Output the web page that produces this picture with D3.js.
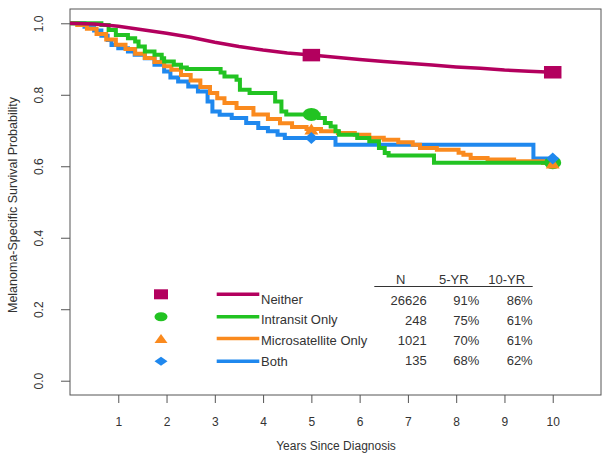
<!DOCTYPE html>
<html><head><meta charset="utf-8">
<script src="https://cdn.jsdelivr.net/npm/d3@7"></script>
<style>body{margin:0;background:#fff}svg{display:block}text{font-family:"Liberation Sans",Arial,sans-serif;fill:#333}</style>
</head><body>
<script>
// ---- data ----
const groups = ["Neither", "Intransit Only", "Microsatellite Only", "Both"];
const groupN = ["26626", "248", "1021", "135"];
const fiveYr = ["91%", "75%", "70%", "68%"];
const tenYr = ["86%", "61%", "61%", "62%"];
const colors = ["#b3005e", "#22c322", "#fa8a1e", "#1f88ee"];
const xTicks = [1,2,3,4,5,6,7,8,9,10];
const yTicks = [0.0,0.2,0.4,0.6,0.8,1.0];
const markerTimes = [5, 10];

const neitherT = [0,0.5,1,1.5,2,2.5,3,3.5,4,4.5,5,5.5,6,6.5,7,7.5,8,8.5,9,9.5,10];
const neitherS = [1.0,0.998,0.992,0.982,0.972,0.961,0.947,0.935,0.925,0.917,0.911,0.905,0.899,0.893,0.888,0.883,0.878,0.874,0.869,0.866,0.863];

const intransitT = [0,0.65,0.8,0.95,1.2,1.35,1.42,1.55,1.75,1.9,1.95,2.15,2.3,2.42,3.12,3.2,3.45,3.52,3.72,4.25,4.38,4.48,5.15,5.28,5.4,5.5,5.57,5.95,6.2,6.4,6.52,6.6,7.54,10];
const intransitS = [1.0,0.995,0.981,0.967,0.958,0.949,0.935,0.921,0.912,0.902,0.893,0.884,0.876,0.872,0.862,0.851,0.842,0.814,0.805,0.781,0.753,0.745,0.735,0.721,0.711,0.698,0.688,0.679,0.670,0.651,0.637,0.630,0.610,0.610];

const microT = [0,0.15,0.35,0.55,0.75,0.95,1.15,1.35,1.55,1.75,1.95,2.1,2.3,2.5,2.7,2.9,3.05,3.2,3.45,3.8,4.1,4.35,4.6,4.9,5.2,5.55,5.9,6.2,6.5,6.8,7.1,7.25,7.6,8.05,8.15,8.3,8.65,9.2,9.8,10];
const microS = [1.0,0.995,0.985,0.97,0.955,0.94,0.928,0.915,0.903,0.892,0.88,0.87,0.855,0.84,0.822,0.805,0.79,0.777,0.763,0.745,0.732,0.72,0.71,0.704,0.698,0.693,0.688,0.68,0.674,0.667,0.66,0.651,0.646,0.638,0.632,0.623,0.619,0.614,0.609,0.609];

const bothT = [0,0.3,0.5,0.65,0.78,0.86,1.0,1.2,1.34,1.55,1.75,1.95,2.08,2.24,2.45,2.65,2.85,2.95,3.1,3.35,3.65,3.9,4.1,4.3,4.45,5.5,9.6,10];
const bothS = [1.0,0.99,0.98,0.965,0.953,0.939,0.93,0.921,0.912,0.902,0.884,0.865,0.848,0.837,0.823,0.809,0.781,0.753,0.744,0.735,0.721,0.707,0.698,0.688,0.679,0.660,0.622,0.622];

// ---- layout ----
const W = 610, H = 459;
const L = 70, R = 601, T = 9, B = 395;
const svg = d3.select("body").append("svg").attr("width", W).attr("height", H);
const x = d3.scaleLinear().domain([0, 11]).range([L, R]);
const y = d3.scaleLinear().domain([-0.04, 1.04]).range([B, T]);

// box
svg.append("rect").attr("x", L).attr("y", T).attr("width", R - L).attr("height", B - T)
  .attr("fill", "none").attr("stroke", "#555").attr("stroke-width", 1);

// x axis
const xAx = svg.append("g").attr("transform", `translate(0,${B})`)
  .call(d3.axisBottom(x).tickValues(xTicks).tickSize(8).tickFormat(d3.format("d")));
xAx.select(".domain").remove();
xAx.selectAll("line").attr("stroke", "#555");
xAx.selectAll("text").attr("dy", null).attr("y", 30.5).style("font-size", "12px").attr("fill", "#333");

// y axis
const yAx = svg.append("g").attr("transform", `translate(${L},0)`)
  .call(d3.axisLeft(y).tickValues(yTicks).tickSize(9).tickFormat(d3.format(".1f")));
yAx.select(".domain").remove();
yAx.selectAll("line").attr("stroke", "#555");
yAx.selectAll("text").attr("x", null).attr("dy", null)
  .attr("transform", "translate(-26.7,0) rotate(-90)")
  .attr("text-anchor", "middle").style("font-size", "12px").attr("fill", "#333");

// axis titles
svg.append("text").attr("x", (L + R) / 2 + 0.5).attr("y", 450).attr("text-anchor", "middle")
  .style("font-size", "12px").text("Years Since Diagnosis");
svg.append("text").attr("transform", `translate(17,${(T + B) / 2 + 3}) rotate(-90)`)
  .attr("text-anchor", "middle").style("font-size", "12.5px").text("Melanoma-Specific Survival Probability");

// curves
const series = [
  {t: neitherT, s: neitherS, w: 3.5, curve: d3.curveLinear},
  {t: intransitT, s: intransitS, w: 4, curve: d3.curveStepAfter},
  {t: microT, s: microS, w: 4, curve: d3.curveStepAfter},
  {t: bothT, s: bothS, w: 4, curve: d3.curveStepAfter}
];
const drawOrder = [3, 2, 1, 0];
drawOrder.forEach(i => {
  const sr = series[i];
  const pts = sr.t.map((t, k) => [t, sr.s[k]]);
  svg.append("path").datum(pts)
    .attr("d", d3.line().x(d => x(d[0])).y(d => y(d[1])).curve(sr.curve))
    .attr("fill", "none").attr("stroke", colors[i]).attr("stroke-width", sr.w)
    .attr("stroke-linejoin", "miter");
});

function valueAt(sr, t) {
  let v = sr.s[0];
  for (let k = 0; k < sr.t.length; k++) if (sr.t[k] <= t) v = sr.s[k];
  return v;
}
function marker(g, i, cx, cy, sx, sy) {
  const c = colors[i];
  if (i === 0) g.append("rect").attr("x", cx - sx / 2).attr("y", cy - sy / 2).attr("width", sx).attr("height", sy).attr("fill", c);
  else if (i === 1) g.append("ellipse").attr("cx", cx).attr("cy", cy).attr("rx", sx / 2).attr("ry", sy / 2).attr("fill", c);
  else if (i === 2) g.append("path").attr("d", `M${cx - sx / 2},${cy + sy / 2}L${cx + sx / 2},${cy + sy / 2}L${cx},${cy - sy / 2}Z`).attr("fill", c);
  else g.append("path").attr("d", `M${cx - sx / 2},${cy}L${cx},${cy - sy / 2}L${cx + sx / 2},${cy}L${cx},${cy + sy / 2}Z`).attr("fill", c);
}
const msz = [[17.5, 12.5], [17, 13], [14, 11], [13, 12]];
const mg = svg.append("g");
[0, 1, 2, 3].forEach(i => {
  markerTimes.forEach(t => {
    marker(mg, i, x(t), y(valueAt(series[i], t)), msz[i][0], msz[i][1]);
  });
});

// legend
const legY = [294.3, 316.7, 338.5, 361.3];
const txtY = [303.8, 324.4, 344.8, 365.5];
const lsz = [[14, 10], [13, 9], [13, 9], [13, 9]];
groups.forEach((gname, i) => {
  marker(svg, i, 161, legY[i], lsz[i][0], lsz[i][1]);
  svg.append("line").attr("x1", 216.7).attr("x2", 259.3).attr("y1", legY[i]).attr("y2", legY[i])
    .attr("stroke", colors[i]).attr("stroke-width", 3.5);
  svg.append("text").attr("x", 261).attr("y", txtY[i]).style("font-size", "13px").text(gname);
});

// table
svg.append("text").attr("x", 400.8).attr("y", 283.5).attr("text-anchor", "middle").style("font-size", "13px").text("N");
svg.append("text").attr("x", 453.8).attr("y", 283.5).attr("text-anchor", "middle").style("font-size", "13px").text("5-YR");
svg.append("text").attr("x", 506.7).attr("y", 283.5).attr("text-anchor", "middle").style("font-size", "13px").text("10-YR");
svg.append("line").attr("x1", 374.3).attr("x2", 532.7).attr("y1", 286.5).attr("y2", 286.5).attr("stroke", "#333").attr("stroke-width", 1);
const rowY = [305, 325, 345, 365];
groups.forEach((g, i) => {
  svg.append("text").attr("x", 426.7).attr("y", rowY[i]).attr("text-anchor", "end").style("font-size", "13px").text(groupN[i]);
  svg.append("text").attr("x", 479.3).attr("y", rowY[i]).attr("text-anchor", "end").style("font-size", "13px").text(fiveYr[i]);
  svg.append("text").attr("x", 532.7).attr("y", rowY[i]).attr("text-anchor", "end").style("font-size", "13px").text(tenYr[i]);
});
</script>
</body></html>
